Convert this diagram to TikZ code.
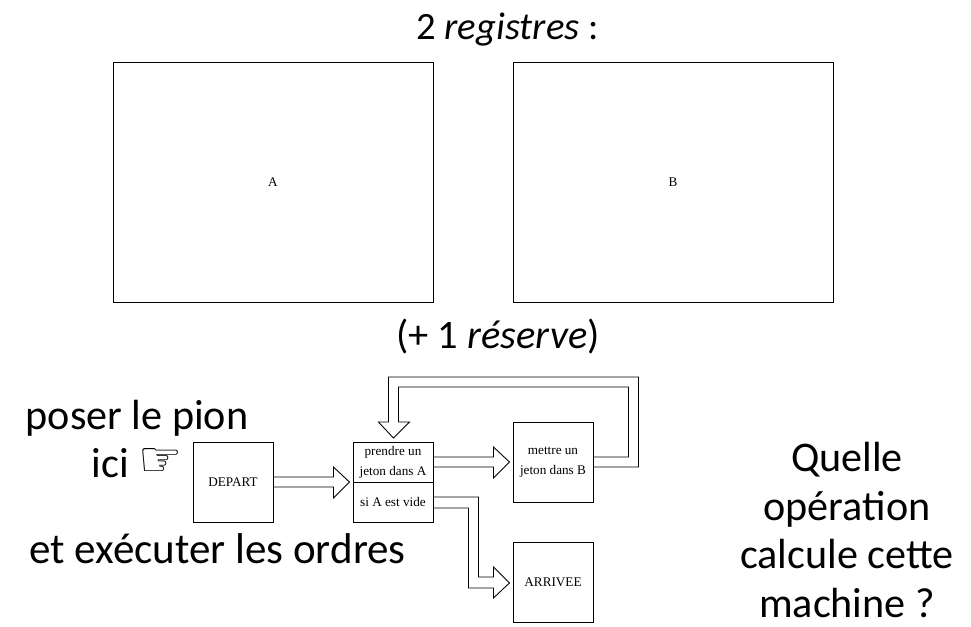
\documentclass[tikz,border=0pt]{standalone}
\usepackage{fontspec}
\setmainfont{Carlito}
\newfontfamily\petite{Liberation Serif}
\newfontfamily\symboles{DejaVu Sans}
\tikzset{
  boite/.style={draw, line width=0.5pt, inner sep=0pt, font=\petite\fontsize{7.5}{11.3}\selectfont, align=center},
  bloc/.style={draw, line width=0.5pt, line join=miter},
  gros/.style={inner sep=0pt, align=center, font=\fontsize{24}{27.7}\selectfont}
}

\begin{document}
\begin{tikzpicture}
                \useasboundingbox (0,0) rectangle (19.42,12.52);

                % Registers
                \node[boite, minimum width=6.4cm, minimum height=4.8cm] (regA) at (5.46, 8.88) {A};
                \node[boite, minimum width=6.4cm, minimum height=4.8cm] (regB) at (13.46, 8.88) {B};
                \node[gros, font=\fontsize{22}{26}\selectfont] (titre) at (10.15, 11.92) {2 \textit{registres} :};
                \node[gros, font=\fontsize{23}{27}\selectfont] (reserve) at (9.96, 5.78) {(+ 1 \textit{réserve})};

                % Machine
                \node[boite, minimum size=1.6cm] (depart) at (4.66, 2.88) {DEPART};
                \node[boite, minimum width=1.6cm, minimum height=0.8cm] (prendre) at (7.86, 3.28) {prendre un\\jeton dans A};
                \node[boite, minimum width=1.6cm, minimum height=0.8cm] (sivide) at (7.86, 2.48) {si A est vide};
                \node[boite, minimum size=1.6cm] (mettre) at (11.06, 3.28) {mettre un\\jeton dans B};
                \node[boite, minimum size=1.6cm] (arrivee) at (11.06, 0.88) {ARRIVEE};

                % Block arrows
                \draw[bloc] (depart.east) ++(0, 0.1) -- ++(1.2, 0) -- ++(0, 0.2) -- ++(0.32, -0.3)
                    -- ++(-0.32, -0.32) -- ++(0, 0.22) -- ++(-1.2, 0);
                \draw[bloc] (prendre.east) ++(0, 0.1) -- ++(1.2, 0) -- ++(0, 0.2) -- ++(0.32, -0.3)
                    -- ++(-0.32, -0.32) -- ++(0, 0.22) -- ++(-1.2, 0);
                \draw[bloc] (sivide.east) ++(0, 0.1) -- ++(0.9, 0) -- ++(0, -1.6) -- ++(0.3, 0) -- ++(0, 0.2)
                    -- ++(0.32, -0.32) -- ++(-0.32, -0.3) -- ++(0, 0.2) -- ++(-0.5, 0) -- ++(0, 1.6) -- ++(-0.7, 0);
                \draw[bloc] (mettre.east) ++(0, 0.1) -- ++(0.7, 0) -- ++(0, 1.4) -- ++(-4.6, 0) -- ++(0, -0.7)
                    -- ++(0.22, 0) -- ++(-0.32, -0.32) -- ++(-0.3, 0.32) -- ++(0.2, 0) -- ++(0, 0.9)
                    -- ++(5, 0) -- ++(0, -1.8) -- ++(-0.9, 0);

                % Texts
                \node[gros] (poser) at (2.74, 3.74) {poser le pion\\ici {\symboles\fontsize{28}{28}\selectfont\smash{\raisebox{1pt}{☞}}}};
                \node[gros, font=\fontsize{24.5}{28}\selectfont] (ordres) at (4.35, 1.54) {et exécuter les ordres};
                \node[gros] (question) at (16.94, 1.92) {Quelle\\opération\\calcule cette\\machine ?};
\end{tikzpicture}
\end{document}
